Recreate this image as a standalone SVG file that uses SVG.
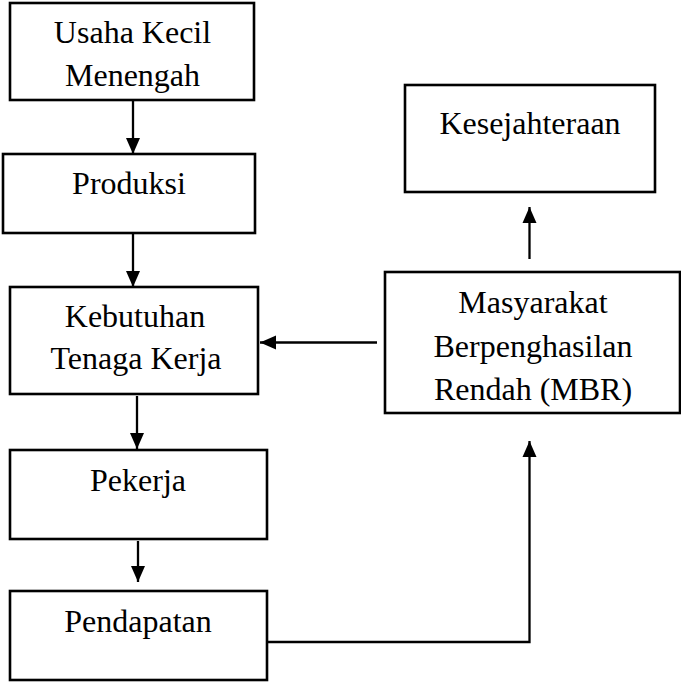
<svg xmlns="http://www.w3.org/2000/svg" width="681" height="684" viewBox="0 0 681 684">
<style>
.box{fill:#fff;stroke:#000;stroke-width:2.6}
.t{font-family:"Liberation Serif","Times New Roman",serif;font-size:32px;fill:#000;text-anchor:middle}
.c{fill:none;stroke:#000;stroke-width:2.3}
</style>
<defs>
<marker id="ah" markerUnits="userSpaceOnUse" markerWidth="16" markerHeight="16" viewBox="0 0 16 14" refX="16" refY="7" orient="auto">
<path d="M0,0 L16,7 L0,14 z" fill="#000"/>
</marker>
</defs>
<rect width="681" height="684" fill="#fff"/>
<g id="connectors">
<line class="c" x1="133" y1="101" x2="133" y2="154" marker-end="url(#ah)"/>
<line class="c" x1="133" y1="234" x2="133" y2="287" marker-end="url(#ah)"/>
<line class="c" x1="137" y1="396" x2="137" y2="449" marker-end="url(#ah)"/>
<line class="c" x1="138" y1="541" x2="138" y2="582" marker-end="url(#ah)"/>
<line class="c" x1="377" y1="342.5" x2="260" y2="342.5" marker-end="url(#ah)"/>
<path class="c" d="M267,642 H529.5 V441" marker-end="url(#ah)"/>
<line class="c" x1="529.5" y1="259" x2="529.5" y2="207" marker-end="url(#ah)"/>
</g>
<g id="n1">
<rect class="box" x="10" y="3" width="244" height="97"/>
<text class="t" x="132.5" y="43">Usaha Kecil</text>
<text class="t" x="132.5" y="86">Menengah</text>
</g>
<g id="n2">
<rect class="box" x="3" y="154" width="252" height="79"/>
<text class="t" x="129" y="194">Produksi</text>
</g>
<g id="n3">
<rect class="box" x="10" y="287" width="248" height="107"/>
<text class="t" x="135" y="327">Kebutuhan</text>
<text class="t" x="136" y="369">Tenaga Kerja</text>
</g>
<g id="n4">
<rect class="box" x="10" y="450" width="257" height="89"/>
<text class="t" x="138" y="491">Pekerja</text>
</g>
<g id="n5">
<rect class="box" x="10" y="591" width="257" height="89"/>
<text class="t" x="138" y="632">Pendapatan</text>
</g>
<g id="n6">
<rect class="box" x="405" y="85" width="250" height="107"/>
<text class="t" x="530" y="134">Kesejahteraan</text>
</g>
<g id="n7">
<rect class="box" x="385" y="272" width="295" height="141"/>
<text class="t" x="533" y="313">Masyarakat</text>
<text class="t" x="533" y="357">Berpenghasilan</text>
<text class="t" x="533" y="400">Rendah (MBR)</text>
</g>
</svg>
